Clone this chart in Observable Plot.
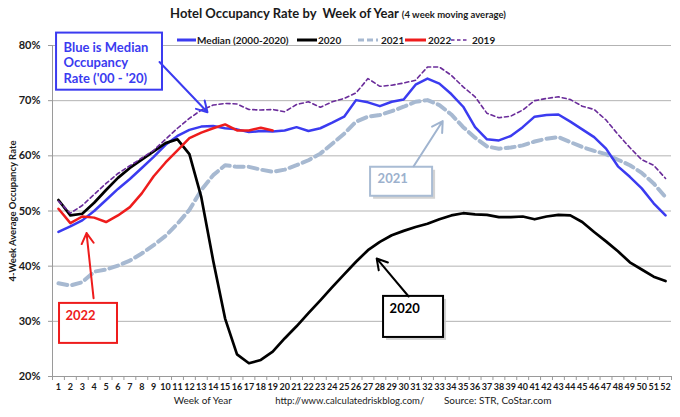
<!DOCTYPE html>
<html><head><meta charset="utf-8">
<script src="https://cdn.jsdelivr.net/npm/d3@7"></script>
<script src="https://cdn.jsdelivr.net/npm/@observablehq/plot@0.6"></script>
<style>
body{margin:0;background:#fff;font-family:Lato,"Open Sans",sans-serif;}
#wrap{position:relative;width:680px;height:417px;overflow:hidden;}
#title{position:absolute;top:5px;left:0;width:676px;text-align:center;font-weight:700;font-size:13px;color:#1a1a1a;white-space:pre;}
#title small{font-size:9.5px;}
.lg{position:absolute;top:34px;font-size:10px;font-weight:700;color:#1a1a1a;white-space:nowrap;}
.sw{position:absolute;top:34px;}
</style></head>
<body>
<div id="wrap">
<div id="title">Hotel Occupancy Rate by  Week of Year <small>(4 week moving average)</small></div>
</div>
<script>
const weeks = d3.range(1, 53);
const seriesNames = ["Median (2000-2020)", "2020", "2021", "2022", "2019"];
const median = [46.2,47.2,48.3,50.0,52.0,54.0,55.8,57.8,59.8,62.0,63.6,64.7,65.3,65.4,65.0,64.8,64.3,64.5,64.4,64.6,65.2,64.5,65.0,66.0,67.1,70.1,69.7,69.0,69.8,70.2,72.9,74.0,73.1,71.2,68.9,65.2,63.0,62.8,63.6,65.2,67.1,67.4,67.5,66.2,64.8,63.4,61.3,58.1,56.2,54.1,51.4,49.2];
const y2020 = [52.0,49.2,49.5,51.5,53.8,56.0,57.8,59.3,60.8,62.3,63.0,60.3,52.5,41.0,30.5,24.0,22.4,23.0,24.5,26.9,29.1,31.5,33.8,36.2,38.5,40.8,42.9,44.4,45.6,46.4,47.1,47.7,48.5,49.2,49.6,49.4,49.3,48.9,48.9,49.0,48.5,49.0,49.3,49.2,48.0,46.2,44.5,42.7,40.7,39.4,38.1,37.3];
const y2021 = [36.9,36.5,37.1,39.0,39.4,40.1,41.0,42.3,43.8,45.5,47.7,50.2,53.8,56.5,58.3,58.0,58.0,57.5,57.1,57.5,58.3,59.2,60.4,62.2,64.0,66.2,67.1,67.4,68.1,68.9,69.8,70.1,69.2,67.5,65.2,63.3,61.7,61.3,61.5,61.9,62.6,63.1,63.4,62.5,61.6,60.9,60.3,59.3,58.3,56.9,55.0,52.5];
const y2022 = [50.4,47.8,49.0,48.8,48.0,49.2,50.7,53.2,56.3,58.8,61.0,63.2,64.2,65.0,65.7,64.6,64.6,65.1,64.6];
const y2019 = [51.8,49.6,51.0,53.0,55.0,56.8,58.2,59.6,61.0,63.0,65.0,66.8,68.3,69.2,69.5,69.4,68.4,68.3,68.4,68.0,69.3,69.8,68.8,69.8,70.4,71.4,74.0,72.6,72.8,73.2,73.7,76.1,76.1,74.6,72.5,70.7,67.7,66.9,67.2,68.3,70.0,70.4,70.7,70.2,69.0,68.4,66.5,63.9,61.5,59.3,58.3,55.9];
const yTicks = [20, 30, 40, 50, 60, 70, 80];

const colors = {median:"#3b3bf0", y2020:"#000000", y2021:"#a7b9d1", y2022:"#ee1c1c", y2019:"#6a2c9a"};

const rows = arr => arr.map((v, i) => ({week: weeks[i], v}));

// annotations (in data units: week, percent)
const boxes = [
  {x1:0.84, x2:9.74, y1:71.9, y2:82.25, stroke:colors.median, shadow:false},
  {x1:1.09, x2:5.96, y1:26.0, y2:33.25, stroke:colors.y2022, shadow:false},
  {x1:27.22, x2:32.43, y1:52.67, y2:57.93, stroke:"#a9bcd4", shadow:true},
  {x1:28.31, x2:33.35, y1:27.08, y2:34.52, stroke:"#000", shadow:true}
];
const labels = [
  {x:1.42, y:79.6, t:"Blue is Median", fill:colors.median},
  {x:1.42, y:76.9, t:"Occupancy", fill:colors.median},
  {x:1.42, y:74.0, t:"Rate ('00 - '20)", fill:colors.median},
  {x:1.59, y:31.0, t:"2022", fill:colors.y2022},
  {x:27.81, y:55.9, t:"2021", fill:"#9cb1cd"},
  {x:28.82, y:32.3, t:"2020", fill:"#000"}
];
const arrows = [
  {x1:9.49, y1:77.0, x2:13.52, y2:67.9, stroke:colors.median},
  {x1:3.95, y1:34.2, x2:3.36, y2:46.0, stroke:colors.y2022},
  {x1:30.84, y1:58.1, x2:33.28, y2:66.3, stroke:"#a0b4cf"},
  {x1:30.42, y1:34.5, x2:27.73, y2:41.4, stroke:"#000"}
];
const footer = [
  {x:13.12, t:"Week of Year", w:700, s:10},
  {x:25.47, t:"http://www.calculatedriskblog.com/", w:400, s:9.5},
  {x:37.9, t:"Source: STR, CoStar.com", w:700, s:10}
];

const chart = Plot.plot({
  width: 680, height: 417,
  marginLeft: 52, marginRight: 9, marginTop: 45, marginBottom: 41,
  style: {fontFamily: "Lato, 'Open Sans', sans-serif", color: "#1a1a1a", overflow: "visible", background: "transparent"},
  x: {type: "linear", domain: [0.5, 52.5]},
  y: {domain: [20, 80]},
  marks: [
    Plot.gridY(yTicks.slice(1), {stroke: "#b3b3b3", strokeOpacity: 1}),
    Plot.ruleY([20], {stroke: "#9a9a9a"}),
    Plot.ruleX([0.5], {stroke: "#9a9a9a"}),
    Plot.axisY({ticks: yTicks, tickFormat: d => d + "%", tickSize: 4, tickPadding: 8, fontSize: 11, fontWeight: 700, stroke: "#9a9a9a", fill: "#1a1a1a", label: null}),
    Plot.axisX({ticks: d3.range(0.5, 53, 1), tickSize: 4, stroke: "#9a9a9a", fill: "none", label: null}),
    Plot.axisX({ticks: weeks, tickSize: 0, tickPadding: 7, fontSize: 9, fontWeight: 700, fill: "#1a1a1a", label: null}),
    Plot.text(["4-Week Average Occupancy Rate"], {frameAnchor: "left", textAnchor: "middle", dx: -40, rotate: -90, fontSize: 9.5, fontWeight: 700, fill: "#1a1a1a"}),
    Plot.text(footer, {x: "x", text: "t", frameAnchor: "bottom", dy: 27, fontSize: d => d.s, fontWeight: d => d.w, fill: "#1a1a1a"}),
    Plot.line(rows(y2021), {x: "week", y: "v", stroke: colors.y2021, strokeWidth: 4, strokeDasharray: "9,5", curve: "linear"}),
    Plot.line(rows(median), {x: "week", y: "v", stroke: colors.median, strokeWidth: 2.5}),
    Plot.line(rows(y2020), {x: "week", y: "v", stroke: colors.y2020, strokeWidth: 2.7}),
    Plot.line(rows(y2022), {x: "week", y: "v", stroke: colors.y2022, strokeWidth: 2.5}),
    Plot.line(rows(y2019), {x: "week", y: "v", stroke: colors.y2019, strokeWidth: 1.6, strokeDasharray: "4,3"}),
    Plot.rect(boxes.filter(d => d.shadow), {x1: "x1", x2: "x2", y1: "y1", y2: "y2", fill: "#c8c8c8", dx: 3, dy: 3, fillOpacity: 0.8}),
    Plot.rect(boxes, {x1: "x1", x2: "x2", y1: "y1", y2: "y2", fill: "white", stroke: d => d.stroke, strokeWidth: 2}),
    Plot.text(labels, {x: "x", y: "y", text: "t", fill: d => d.fill, textAnchor: "start", fontSize: 13, fontWeight: 700}),
    Plot.arrow(arrows, {x1: "x1", y1: "y1", x2: "x2", y2: "y2", stroke: d => d.stroke, strokeWidth: 2, headLength: 9})
  ]
});
const wrap = document.getElementById("wrap");
wrap.insertBefore(chart, wrap.firstChild);

// legend
const lgPos = [{sw:177, w:19, tx:197}, {sw:297, w:20, tx:318}, {sw:358, w:20, tx:381}, {sw:405, w:21, tx:428}, {sw:451, w:18, tx:472}];
const lgStyle = [
  {c: colors.median, sw: 3, dash: ""},
  {c: colors.y2020, sw: 3, dash: ""},
  {c: colors.y2021, sw: 3, dash: "6,3"},
  {c: colors.y2022, sw: 3, dash: ""},
  {c: colors.y2019, sw: 1.6, dash: "3.5,2.5"}
];
seriesNames.forEach((name, i) => {
  const p = lgPos[i], s = lgStyle[i];
  const sv = document.createElementNS("http://www.w3.org/2000/svg", "svg");
  sv.setAttribute("width", p.w); sv.setAttribute("height", 12);
  sv.setAttribute("class", "sw");
  sv.style.left = p.sw + "px";
  const ln = document.createElementNS("http://www.w3.org/2000/svg", "line");
  ln.setAttribute("x1", 0); ln.setAttribute("x2", p.w); ln.setAttribute("y1", 6); ln.setAttribute("y2", 6);
  ln.setAttribute("stroke", s.c); ln.setAttribute("stroke-width", s.sw);
  if (s.dash) ln.setAttribute("stroke-dasharray", s.dash);
  sv.appendChild(ln);
  wrap.appendChild(sv);
  const t = document.createElement("div");
  t.className = "lg"; t.style.left = p.tx + "px"; t.textContent = name;
  wrap.appendChild(t);
});
</script>
</body></html>
